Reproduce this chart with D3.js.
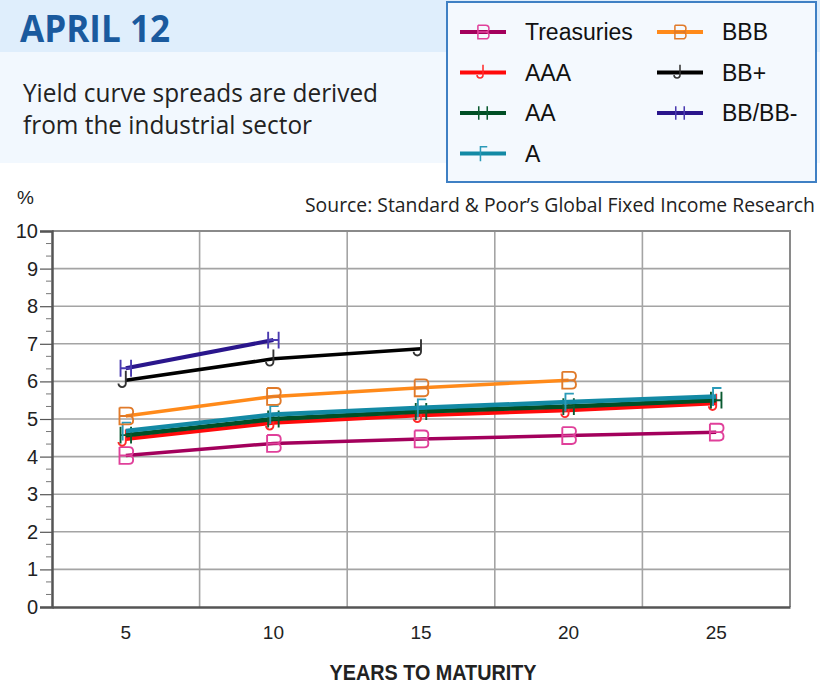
<!DOCTYPE html>
<html>
<head>
<meta charset="utf-8">
<script src="https://cdn.jsdelivr.net/npm/d3@7"></script>
<style>
  body { margin: 0; background: #fff; }
  svg { display: block; }
</style>
</head>
<body>
<div id="chart"></div>
<script>
// categories on the x axis (years to maturity)
const years = [5, 10, 15, 20, 25];
const yTicks = [0, 1, 2, 3, 4, 5, 6, 7, 8, 9, 10];

// yields in %
const treasuries = [4.03, 4.35, 4.47, 4.56, 4.65];
const aaa = [4.47, 4.9, 5.1, 5.23, 5.42];
const aa = [4.57, 5.0, 5.2, 5.33, 5.5];
const a = [4.68, 5.12, 5.3, 5.45, 5.6];
const bbb = [5.08, 5.6, 5.83, 6.03];
const bbPlus = [6.03, 6.6, 6.87];
const bbMinus = [6.35, 7.1];

const seriesNames = ["Treasuries", "AAA", "AA", "A", "BBB", "BB+", "BB/BB-"];

(() => {
    const width = 840;
    const height = 684;

    const svg = d3.select("#chart").append("svg")
        .attr("width", width)
        .attr("height", height);

    // marker glyphs, roughly like the odd letter-shaped markers in the original
    const glyphs = {
        B: "M-6,-8H3Q7,-8 7,-4Q7,0 3,0H-6M3,0Q7,0 7,4Q7,8 3,8H-6V-8",
        J: "M0,-9V3A3.5,3.5 0 1 1 -7,3",
        H: "M-5,-8V8M5,-8V8M-5,0H5",
        F: "M-3,9V-8H5"
    };

    const styles = [
        { line: "#a3005c", mark: "#e0409a", glyph: "B", w: 3.5 },
        { line: "#ff0a0a", mark: "#ff2a2a", glyph: "J", w: 4 },
        { line: "#004f25", mark: "#0a5a30", glyph: "H", w: 4.5 },
        { line: "#138aa5", mark: "#2a9ab8", glyph: "F", w: 4.5 },
        { line: "#ff8a1a", mark: "#e07a2a", glyph: "B", w: 3.5 },
        { line: "#000000", mark: "#333333", glyph: "J", w: 3.5 },
        { line: "#2a168c", mark: "#4a3ab0", glyph: "H", w: 4 }
    ];
    const values = [treasuries, aaa, aa, a, bbb, bbPlus, bbMinus];
    const series = seriesNames.map((n, i) => Object.assign({ name: n, values: values[i] }, styles[i]));

    /********************** header ***********************************/
    svg.append("rect")
        .attr("x", 0).attr("y", 0)
        .attr("width", 820).attr("height", 52)
        .attr("fill", "#dfeefc");
    svg.append("rect")
        .attr("x", 0).attr("y", 52)
        .attr("width", 820).attr("height", 111)
        .attr("fill", "#f2f8fe");

    svg.append("text")
        .attr("x", 20).attr("y", 42)
        .attr("font-family", "'Open Sans', sans-serif")
        .attr("font-weight", "bold")
        .attr("font-size", 38)
        .attr("fill", "#1a5a9e")
        .attr("textLength", 150)
        .attr("lengthAdjust", "spacingAndGlyphs")
        .text("APRIL 12");

    const sub = [["Yield curve spreads are derived", 355], ["from the industrial sector", 289]];
    svg.selectAll(".subtitle")
        .data(sub)
        .join("text")
        .attr("class", "subtitle")
        .attr("x", 23)
        .attr("y", (d, i) => 102 + i * 32)
        .attr("font-family", "'Open Sans', sans-serif")
        .attr("font-size", 25)
        .attr("fill", "#222")
        .attr("textLength", d => d[1])
        .attr("lengthAdjust", "spacingAndGlyphs")
        .text(d => d[0]);

    /********************** scales ***********************************/
    const x = d3.scaleBand()
        .domain(years)
        .range([52, 790]);
    const cx = d => x(d) + x.bandwidth() / 2;

    const y = d3.scaleLinear()
        .domain([0, 10])
        .range([607, 231]);

    /********************** gridlines ********************************/
    svg.selectAll(".hgrid")
        .data(yTicks.filter(t => t > 0 && t < 10))
        .join("line")
        .attr("class", "hgrid")
        .attr("x1", 52).attr("x2", 790)
        .attr("y1", d => y(d)).attr("y2", d => y(d))
        .attr("stroke", "#a4a4a4")
        .attr("stroke-width", 1.6);

    svg.selectAll(".vgrid")
        .data(years.slice(1))
        .join("line")
        .attr("class", "vgrid")
        .attr("x1", d => x(d)).attr("x2", d => x(d))
        .attr("y1", y(10)).attr("y2", y(0))
        .attr("stroke", "#a4a4a4")
        .attr("stroke-width", 1.6);

    // top and right frame
    svg.append("path")
        .attr("d", `M52,${y(10)}H790V${y(0)}`)
        .attr("fill", "none")
        .attr("stroke", "#8a8a8a")
        .attr("stroke-width", 2);

    /********************** axes *************************************/
    const yAxis = svg.append("g")
        .attr("transform", "translate(52,0)")
        .call(d3.axisLeft(y).tickValues(yTicks).tickSize(12).tickPadding(2));
    yAxis.select(".domain").attr("stroke", "#555").attr("stroke-width", 2.5);
    yAxis.selectAll(".tick line").attr("stroke", "#555").attr("stroke-width", 1.2);
    yAxis.selectAll(".tick text")
        .attr("font-family", "'Liberation Sans', Arial, sans-serif")
        .attr("font-size", 20)
        .attr("fill", "#222");

    // minor ticks at thirds
    const minor = d3.range(0, 30).filter(i => i % 3 !== 0).map(i => i / 3);
    svg.selectAll(".minor")
        .data(minor)
        .join("line")
        .attr("class", "minor")
        .attr("x1", 46).attr("x2", 52)
        .attr("y1", d => y(d)).attr("y2", d => y(d))
        .attr("stroke", "#777")
        .attr("stroke-width", 1);

    const xAxis = svg.append("g")
        .attr("transform", `translate(0,${y(0)})`)
        .call(d3.axisBottom(x).tickSize(0).tickPadding(19));
    xAxis.select(".domain").attr("stroke", "#555").attr("stroke-width", 2.5);
    xAxis.selectAll(".tick text")
        .attr("font-family", "'Liberation Sans', Arial, sans-serif")
        .attr("font-size", 19)
        .attr("fill", "#222");

    svg.append("text")
        .attr("x", 433).attr("y", 680)
        .attr("text-anchor", "middle")
        .attr("font-family", "'Liberation Sans', Arial, sans-serif")
        .attr("font-weight", "bold")
        .attr("font-size", 22)
        .attr("fill", "#222")
        .attr("textLength", 207)
        .attr("lengthAdjust", "spacingAndGlyphs")
        .text("YEARS TO MATURITY");

    svg.append("text")
        .attr("x", 17).attr("y", 204)
        .attr("font-family", "'Liberation Sans', Arial, sans-serif")
        .attr("font-size", 19)
        .attr("fill", "#222")
        .text("%");

    svg.append("text")
        .attr("x", 815).attr("y", 212)
        .attr("text-anchor", "end")
        .attr("font-family", "'Open Sans', sans-serif")
        .attr("font-size", 20)
        .attr("fill", "#222")
        .attr("textLength", 510)
        .attr("lengthAdjust", "spacingAndGlyphs")
        .text("Source: Standard & Poor\u2019s Global Fixed Income Research");

    /********************** lines + markers **************************/
    const line = d3.line()
        .x((d, i) => cx(years[i]))
        .y(d => y(d));

    series.forEach(s => {
        svg.append("path")
            .attr("d", line(s.values))
            .attr("fill", "none")
            .attr("stroke", s.line)
            .attr("stroke-width", s.w)
            .attr("stroke-linejoin", "round");

        svg.selectAll(null)
            .data(s.values)
            .join("path")
            .attr("transform", (d, i) => `translate(${cx(years[i])},${y(d)}) scale(1.05)`)
            .attr("d", glyphs[s.glyph])
            .attr("fill", "none")
            .attr("stroke", s.mark)
            .attr("stroke-width", 1.8);
    });

    /********************** legend ***********************************/
    svg.append("rect")
        .attr("x", 447).attr("y", 2)
        .attr("width", 369).attr("height", 180)
        .attr("fill", "#f4f9fe")
        .attr("stroke", "#3f80c4")
        .attr("stroke-width", 2);

    // two columns, second one restarts at the top row
    const leg = svg.selectAll(".leg")
        .data(series)
        .join("g")
        .attr("class", "leg")
        .attr("transform", (d, i) => `translate(${i < 4 ? 460 : 657},${32 + (i < 4 ? i : i - 4) * 40.5})`);

    leg.append("line")
        .attr("x1", 0).attr("x2", 46)
        .attr("stroke", d => d.line)
        .attr("stroke-width", 4);

    leg.append("path")
        .attr("transform", "translate(23,0) scale(0.85)")
        .attr("d", d => d.glyph === "H" ? "M-5,-8V8M5,-8V8" : glyphs[d.glyph])
        .attr("fill", "none")
        .attr("stroke", d => d.mark)
        .attr("stroke-width", 1.8);

    leg.append("text")
        .attr("x", 65)
        .attr("y", 8)
        .attr("font-family", "'Liberation Sans', Arial, sans-serif")
        .attr("font-size", 23)
        .attr("fill", "#111")
        .text(d => d.name);
})()
</script>
</body>
</html>
